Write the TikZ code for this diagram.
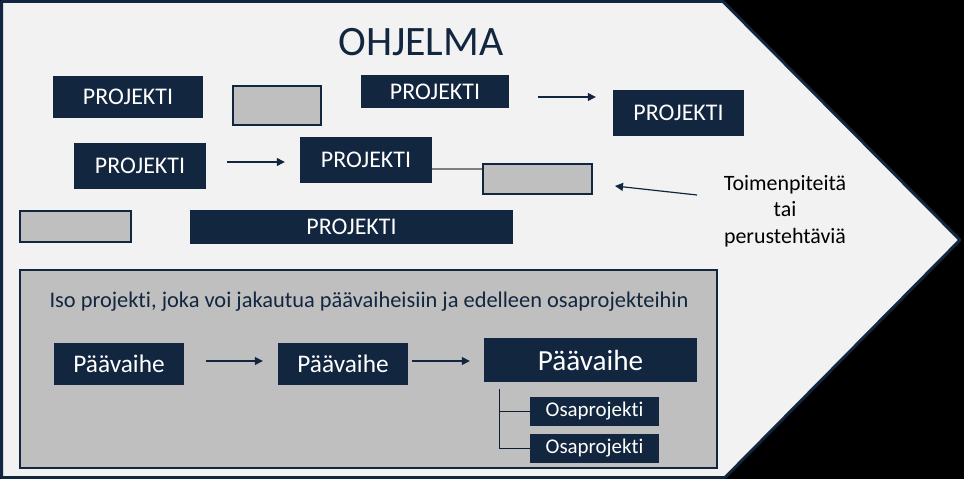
\documentclass[tikz,border=0pt]{standalone}
\usepackage{fontspec}
\setmainfont[Ligatures=NoCommon]{Carlito}
\usetikzlibrary{arrows.meta}
\definecolor{Navy}{HTML}{12263F}
\definecolor{Paper}{HTML}{F2F2F2}
\definecolor{Slate}{HTML}{BFBFBF}
\definecolor{Wire}{HTML}{808080}
\tikzset{
  projbox/.style={rectangle, fill=Navy, text=white, inner sep=0pt,
                  font=\fontsize{24}{27}\selectfont},
  phasebox/.style={rectangle, fill=Navy, text=white, inner sep=0pt,
                  font=\fontsize{#1}{#1}\selectfont},
  emptybox/.style={rectangle, draw=Navy, fill=Slate, line width=2bp, inner sep=0pt},
}
\begin{document}
\begin{tikzpicture}[x=1bp, y=-1bp,
    arr/.style={-{Triangle[length=8bp, width=8bp]}, line width=1.2bp, Navy},
    link/.style={line width=1.2bp, #1},
  ]
  \useasboundingbox (0,0) rectangle (964,479);
  \fill[black] (0,0) rectangle (964,479);
  % programme arrow
  \filldraw[fill=Paper, draw=Navy, line width=3bp, line join=bevel]
    (1.5,1.5) -- (723,1.5) -- (960,240) -- (725,477.5) -- (1.5,477.5) -- cycle;
  \node[text=Navy, font=\fontsize{42}{45}\selectfont] (title) at (421,42) {OHJELMA};

  % loose projects
  \node[projbox, minimum width=150bp, minimum height=42bp] (pA) at (128,97) {PROJEKTI};
  \node[emptybox, minimum width=88bp, minimum height=39bp] (g1) at (277,105.5) {};
  \node[projbox, minimum width=148bp, minimum height=33bp] (pB) at (435,91.5) {PROJEKTI};
  \node[projbox, minimum width=131bp, minimum height=46bp] (pC) at (678.5,113) {PROJEKTI};
  \node[projbox, minimum width=132bp, minimum height=46bp] (pD) at (140,166) {PROJEKTI};
  \node[projbox, minimum width=132bp, minimum height=46bp] (pE) at (366,160) {PROJEKTI};
  \node[emptybox, minimum width=109bp, minimum height=30bp] (g2) at (537.5,179) {};
  \node[emptybox, minimum width=111bp, minimum height=31bp] (g3) at (75.5,226.5) {};
  \node[projbox, minimum width=323bp, minimum height=34bp] (pF) at (351.5,227) {PROJEKTI};

  \draw[arr, shorten <=29bp, shorten >=17bp]
    ([yshift=-5.5bp]pB.east) -- ([yshift=-5.5bp]pB.east -| pC.west);
  \draw[arr, shorten <=21bp, shorten >=15bp]
    ([yshift=4bp]pD.east) -- ([yshift=4bp]pD.east -| pE.west);
  \draw[link=Wire] ([yshift=-9bp]pE.east) -- ([yshift=-9bp]pE.east -| g2.west);

  % tasks
  \node[align=center, font=\fontsize{22}{26.5}\selectfont] (tasks) at (785,211)
    {Toimenpiteitä\\tai\\perustehtäviä};
  \coordinate (tsrc) at (697,195);
  \coordinate (tdst) at (615,186);
  \draw[arr] (tsrc) -- (tdst);

  % big project
  \node[emptybox, line width=2.5bp, minimum width=697bp, minimum height=198bp] (big) at (368.5,369) {};
  \node[text=Navy, font=\fontsize{22.5}{25}\selectfont] (bigtxt) at (369,302)
    {Iso projekti, joka voi jakautua päävaiheisiin ja edelleen osaprojekteihin};
  \node[phasebox=25.4, minimum width=130bp, minimum height=42bp] (v1) at (119,364) {Päävaihe};
  \node[phasebox=25.4, minimum width=130bp, minimum height=42bp] (v2) at (343,364) {Päävaihe};
  \node[phasebox=29.3, minimum width=213bp, minimum height=44bp] (v3) at (590.5,360) {Päävaihe};
  \node[phasebox=21, minimum width=129bp, minimum height=29bp] (o1) at (594.5,411.5) {Osaprojekti};
  \node[phasebox=21, minimum width=129bp, minimum height=29bp] (o2) at (594.5,448.5) {Osaprojekti};

  \draw[arr, shorten <=22bp, shorten >=15bp]
    ([yshift=3bp]v1.east) -- ([yshift=3bp]v1.east -| v2.west);
  \draw[arr, shorten <=4bp, shorten >=14bp]
    ([yshift=3bp]v2.east) -- ([yshift=3bp]v2.east -| v3.west);
  \coordinate (stem) at ([xshift=-91bp, yshift=-7bp]v3.south);
  \draw[link={Navy!80!black, line width=1bp}] (stem) |- (o2.west);
  \draw[link={Navy!80!black, line width=1bp}] (stem |- o1.west) -- (o1.west);
\end{tikzpicture}
\end{document}
